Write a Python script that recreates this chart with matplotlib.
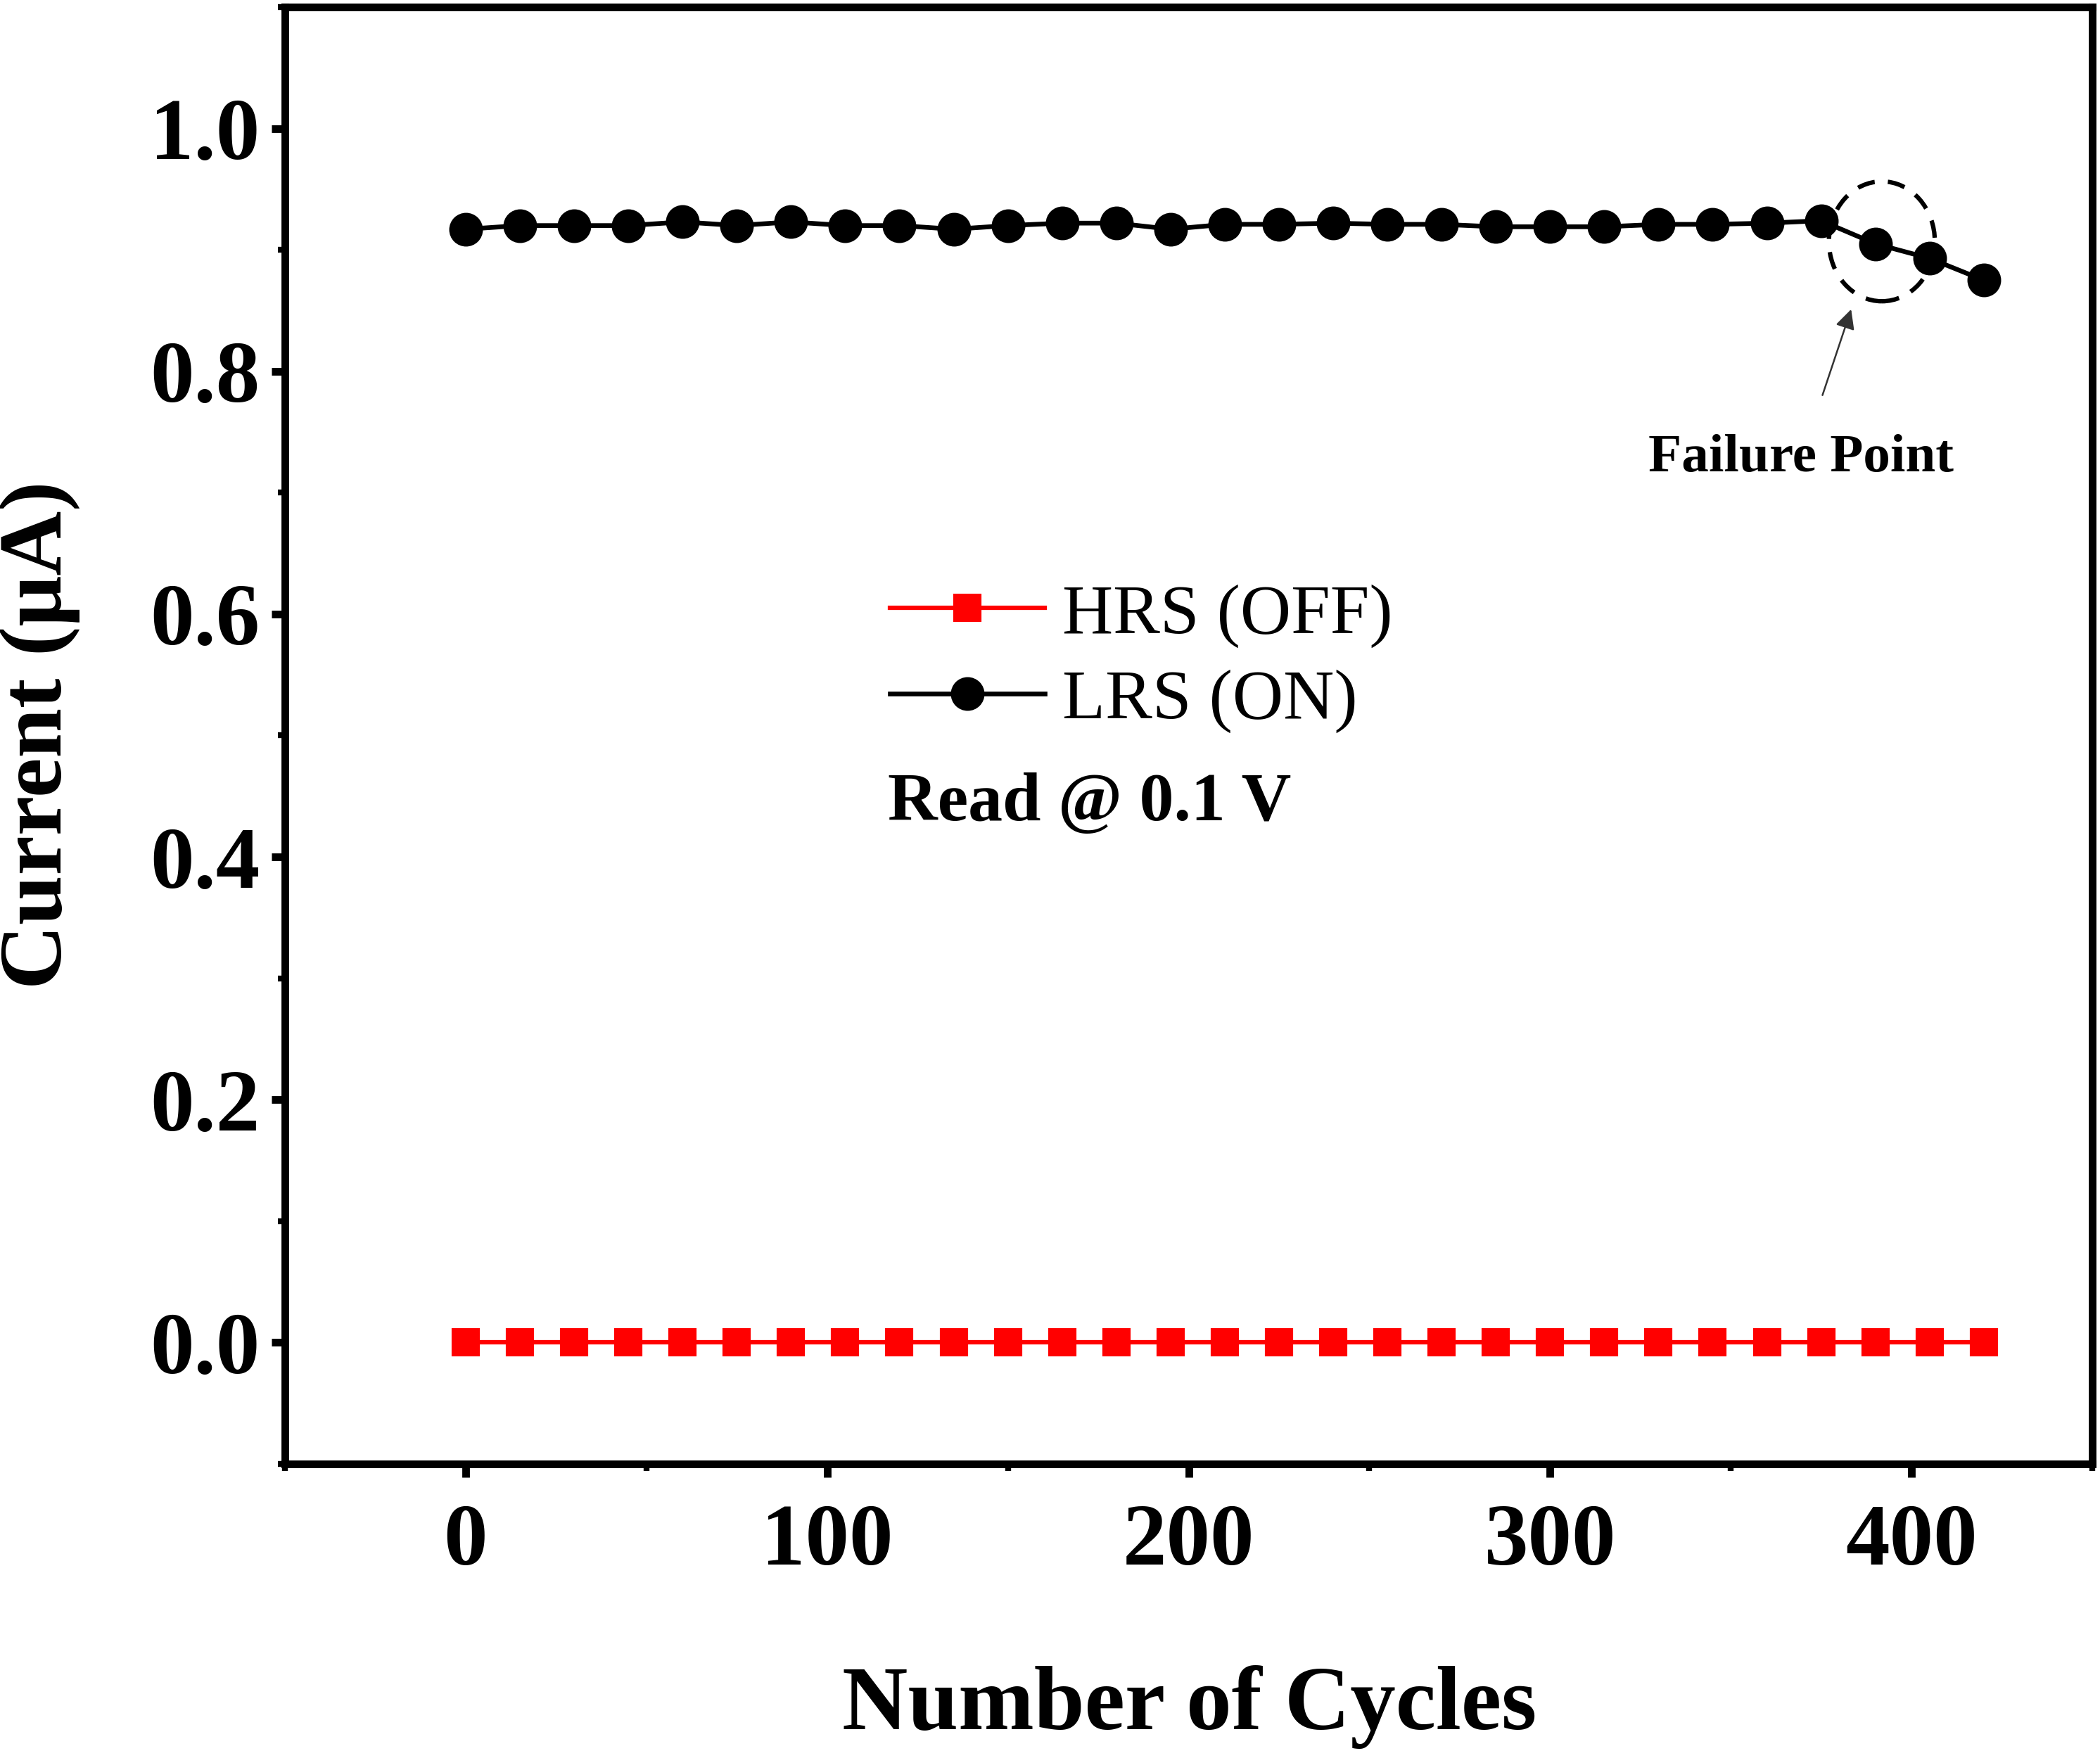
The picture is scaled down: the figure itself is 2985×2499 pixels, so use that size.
import numpy as np
import matplotlib
matplotlib.use("Agg")
import matplotlib.pyplot as plt
from matplotlib.patches import Ellipse
from matplotlib.ticker import MultipleLocator

plt.rcParams['font.family'] = ['Liberation Serif', 'DejaVu Serif']
plt.rcParams['mathtext.fontset'] = 'stix'

# cycle numbers (every 15 cycles)
cycles = [0, 15, 30, 45, 60, 75, 90, 105, 120, 135, 150, 165, 180, 195, 210,
          225, 240, 255, 270, 285, 300, 315, 330, 345, 360, 375, 390, 405, 420]
# read currents in uA
hrs_current = [0.0] * len(cycles)
lrs_current = [0.917, 0.920, 0.920, 0.920, 0.923, 0.920, 0.923, 0.920, 0.920,
               0.917, 0.920, 0.922, 0.922, 0.917, 0.921, 0.921, 0.922, 0.921,
               0.921, 0.919, 0.919, 0.919, 0.921, 0.921, 0.922, 0.924, 0.905,
               0.893, 0.875]

fig = plt.figure(figsize=(9.95, 8.33), dpi=300)
ax = fig.add_axes([0.1357, 0.1673, 0.8606, 0.8287])

ax.plot(cycles, hrs_current, color='red', lw=1.5, marker='s', ms=8.5,
        label='HRS (OFF)')
ax.plot(cycles, lrs_current, color='black', lw=1.6, marker='o', ms=10.5,
        label='LRS (ON)')

ax.set_xlim(-50, 450)
ax.set_ylim(-0.1, 1.1)
ax.set_xticks([0, 100, 200, 300, 400])
ax.set_yticks([0.0, 0.2, 0.4, 0.6, 0.8, 1.0])
ax.xaxis.set_minor_locator(MultipleLocator(50))
ax.yaxis.set_minor_locator(MultipleLocator(0.1))
ax.yaxis.set_major_formatter(plt.FuncFormatter(lambda v, p: f"{v:.1f}"))

for s in ax.spines.values():
    s.set_linewidth(2.6)
ax.tick_params(which='major', direction='out', length=4.5, width=2.6,
               labelsize=30, top=False, right=False)
ax.tick_params(which='minor', direction='out', length=2.5, width=2.0,
               top=False, right=False)
ax.tick_params(axis='x', which='major', pad=9)
ax.tick_params(axis='y', which='major', pad=4)
for lab in ax.get_xticklabels() + ax.get_yticklabels():
    lab.set_fontweight('bold')

fig.text(0.5665, 0.029, 'Number of Cycles', ha='center', va='center',
         fontsize=31, fontweight='bold')
fig.text(0.019, 0.582, 'Current (μA)', ha='center', va='center',
         fontsize=30.5, fontweight='bold', rotation=90)

leg = ax.legend(loc='center left', bbox_to_anchor=(0.3346, 0.553),
                frameon=False, fontsize=24, handlelength=2.2,
                handletextpad=0.25, labelspacing=0.3, borderpad=0,
                borderaxespad=0)

ax.text(0.3336, 0.453, 'Read @ 0.1 V', transform=ax.transAxes,
        ha='left', va='center', fontsize=23.5, fontweight='bold')

# failure point marker
ax.add_patch(Ellipse((391.8, 0.907), 29.3, 0.0987, fill=False, ls=(0, (4, 3)),
                     lw=1.5, color='black'))
ax.annotate('Failure Point', xy=(383.3, 0.851), xytext=(369.5, 0.728),
            ha='center', va='center', fontsize=18.5, fontweight='bold',
            arrowprops=dict(arrowstyle='-|>', color='#333333', lw=0.6,
                            mutation_scale=14, shrinkA=12, shrinkB=0))

fig.savefig('out.png', dpi=300)
